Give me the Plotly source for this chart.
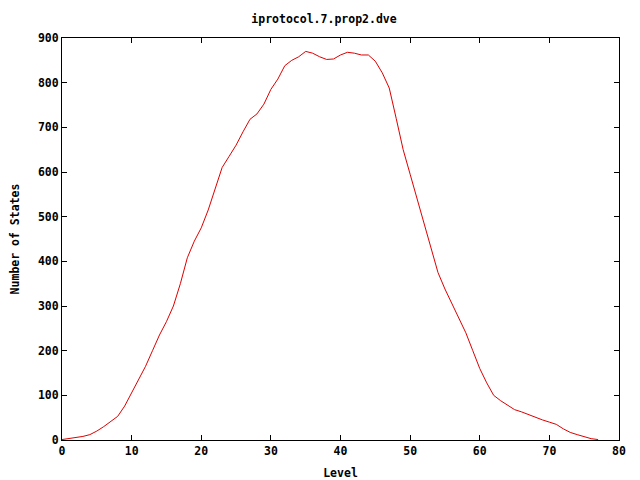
import plotly.graph_objects as go

LEVELS = list(range(0, 78))
STATES = [
    1, 3, 5, 8, 12, 20, 30, 42, 53, 76,
    105, 135, 165, 200, 235, 265, 300, 350, 408, 445,
    475, 515, 565, 610, 635, 660, 690, 718, 730, 752,
    785, 808, 838, 850, 858, 870, 866, 858, 852, 853,
    862, 868, 866, 862, 862, 848, 822, 788, 720, 650,
    595, 540, 485, 430, 375, 338, 305, 275, 240, 200,
    160, 128, 100, 88, 77, 68, 63, 57, 50, 45,
    40, 35, 25, 17, 12, 8, 3, 1,
]

X_TICKS = [0, 10, 20, 30, 40, 50, 60, 70, 80]
Y_TICKS = [0, 100, 200, 300, 400, 500, 600, 700, 800, 900]

FONT = "DejaVu Sans Mono, Liberation Mono, monospace"
BOLD = dict(family=FONT, size=11.5, color="black", weight="bold")

# page body has an 8px margin, so the figure is shrunk by that much
W, H = 632, 472

fig = go.Figure(
    go.Scatter(
        x=LEVELS,
        y=STATES,
        mode="lines",
        line=dict(color="#dd0000", width=1),
        showlegend=False,
    )
)

axis_common = dict(
    showgrid=False,
    zeroline=False,
    showline=True,
    linecolor="black",
    linewidth=1,
    mirror="ticks",
    ticks="inside",
    ticklen=5,
    tickcolor="black",
    tickfont=BOLD,
    automargin=False,
)

fig.update_layout(
    width=W,
    height=H,
    paper_bgcolor="white",
    plot_bgcolor="white",
    font=BOLD,
    title=dict(
        text="iprotocol.7.prop2.dve",
        x=0.5,
        xanchor="center",
        y=1 - 11 / H,
        yanchor="middle",
        font=BOLD,
    ),
    margin=dict(l=54, r=21, t=30, b=40),
    xaxis=dict(
        range=[0, 80],
        tickvals=X_TICKS,
        title=dict(text="Level", standoff=12, font=BOLD),
        **axis_common,
    ),
    yaxis=dict(
        range=[0, 900],
        tickvals=Y_TICKS,
        title=dict(text="Number of States", standoff=18, font=BOLD),
        **axis_common,
    ),
)

fig.write_html("out.html")
